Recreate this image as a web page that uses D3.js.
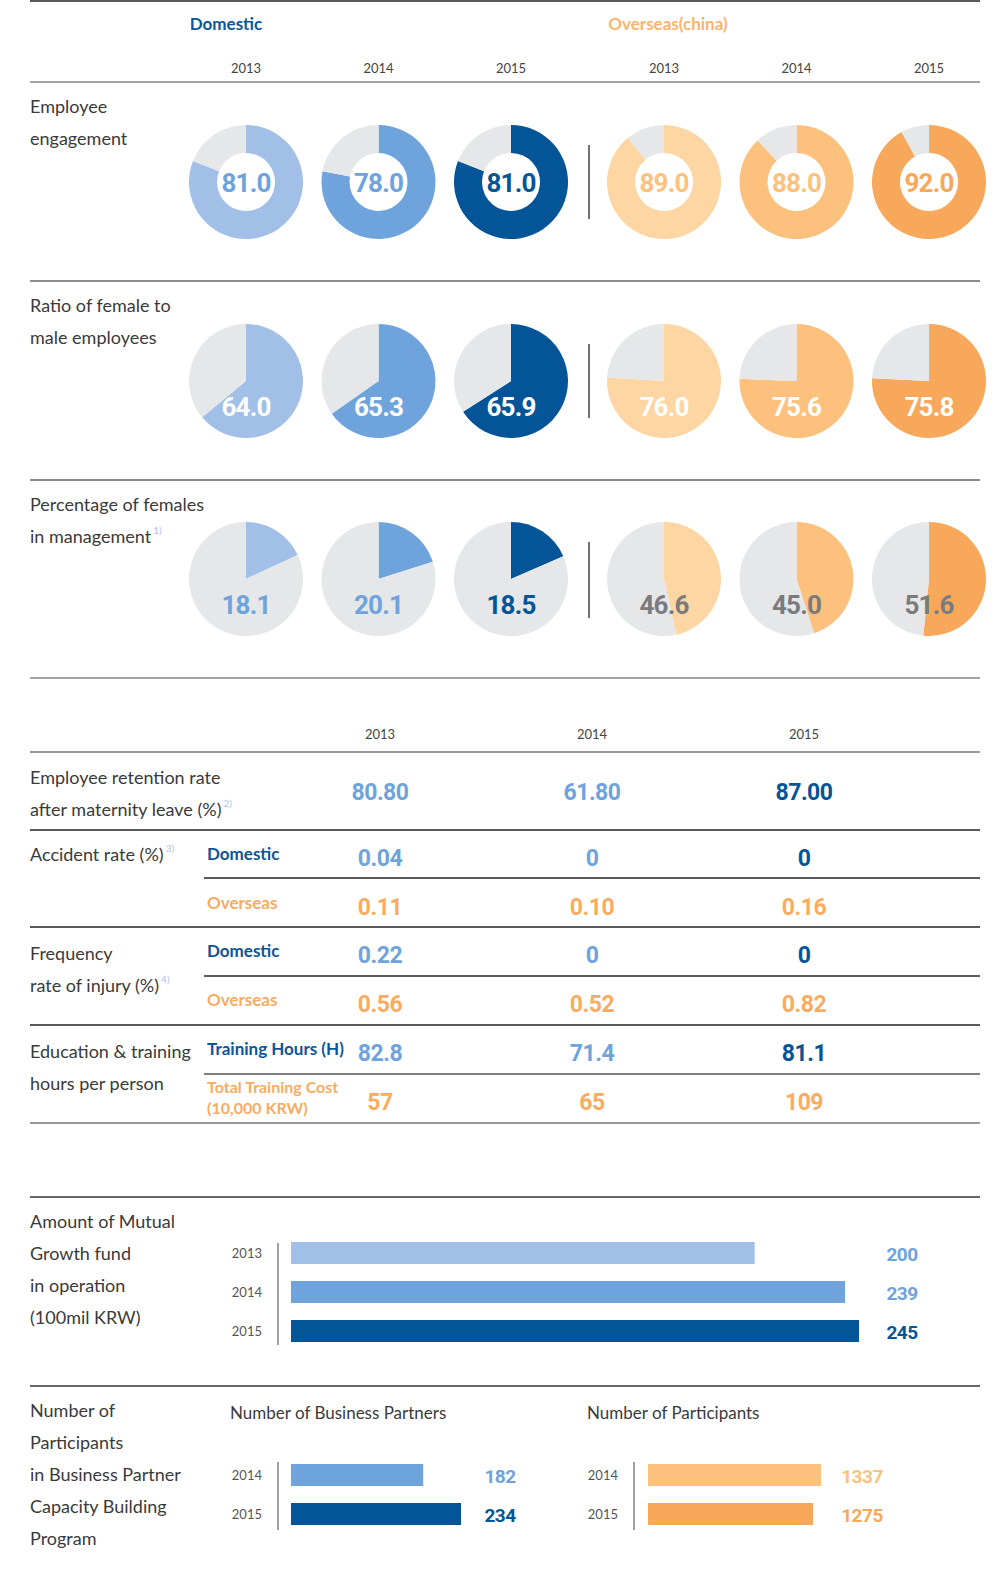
<!DOCTYPE html>
<html>
<head>
<meta charset="utf-8">
<script src="https://cdn.jsdelivr.net/npm/d3@7"></script>
<style>
  html, body { margin: 0; padding: 0; background: #fff; }
  svg text { font-family: Lato, "Noto Sans", sans-serif; }
  svg text.num { font-family: Roboto, "Noto Sans", sans-serif; font-weight: 700; }
</style>
</head>
<body>
<svg id="chart" width="1000" height="1573"></svg>
<script>
// ---- data ----
const years = ["2013", "2014", "2015"];
const engagementDomestic = [81.0, 78.0, 81.0];
const engagementOverseas = [89.0, 88.0, 92.0];
const femaleRatioDomestic = [64.0, 65.3, 65.9];
const femaleRatioOverseas = [76.0, 75.6, 75.8];
const femaleMgmtDomestic = [18.1, 20.1, 18.5];
const femaleMgmtOverseas = [46.6, 45.0, 51.6];

const retentionRate = ["80.80", "61.80", "87.00"];
const accidentDomestic = ["0.04", "0", "0"];
const accidentOverseas = ["0.11", "0.10", "0.16"];
const injuryDomestic = ["0.22", "0", "0"];
const injuryOverseas = ["0.56", "0.52", "0.82"];
const trainingHours = ["82.8", "71.4", "81.1"];
const trainingCost = ["57", "65", "109"];

const fundYears = ["2013", "2014", "2015"];
const fundAmount = [200, 239, 245];
const programYears = ["2014", "2015"];
const businessPartners = [182, 234];
const participants = [1337, 1275];

// ---- palette ----
const blueFill = ["#a1bfe7", "#6ea3dc", "#035597"];
const orangeFill = ["#fdd6a3", "#fbc17d", "#f8a85b"];
const blueText = ["#6ea3dc", "#6ea3dc", "#035597"];
const orangeText = ["#fbc17d", "#fbc17d", "#f8a85b"];
const grey = "#e6e7e9";
const navy = "#0b5599";
const orange = "#f9ab5f";
const labelColor = "#3a3a3a";

const svg = d3.select("#chart");

function hline(y, x1, x2, color, w) {
  svg.append("line").attr("x1", x1).attr("x2", x2).attr("y1", y).attr("y2", y)
    .attr("stroke", color).attr("stroke-width", w);
}
function vline(x, y1, y2, color, w) {
  svg.append("line").attr("x1", x).attr("x2", x).attr("y1", y1).attr("y2", y2)
    .attr("stroke", color).attr("stroke-width", w);
}
// multi-line label; the optional note is set as a superscript after the last line
function label(lines, x, y0, step, opts = {}) {
  const t = svg.append("text").attr("x", x).attr("y", y0)
    .attr("font-size", opts.size || 18).attr("fill", opts.color || labelColor)
    .attr("font-weight", opts.weight || 400);
  lines.forEach((s, i) => {
    t.append("tspan").attr("x", x).attr("y", y0 + i * step).text(s);
  });
  if (opts.note) {
    t.append("tspan").attr("dx", 2).attr("dy", -9).attr("font-size", 10)
      .attr("fill", "#a9c5ea").text(opts.note);
  }
  return t;
}

// ---- header ----
hline(1, 30, 980, "#222", 1.5);
const domX = d3.scalePoint().domain(years).range([246, 511]);
const ovsX = d3.scalePoint().domain(years).range([664, 929]);
svg.append("text").attr("x", 226).attr("y", 30).attr("text-anchor", "middle")
  .attr("font-size", 17).attr("font-weight", 700).attr("fill", navy).text("Domestic");
svg.append("text").attr("x", 668).attr("y", 30).attr("text-anchor", "middle")
  .attr("font-size", 17).attr("font-weight", 700).attr("fill", "#fbb46e").text("Overseas(china)");
[domX, ovsX].forEach(sc => years.forEach(yr => {
  svg.append("text").attr("x", sc(yr)).attr("y", 73).attr("text-anchor", "middle")
    .attr("font-size", 13).attr("fill", "#444").text(yr);
}));
hline(82, 30, 980, "#444", 1.2);

// ---- pie / donut rows ----
const R = 57;
const pie = d3.pie().sort(null).value(d => d);
function pieGroup(cy, values, xScale, fills, inner, labelDy, labelColors) {
  const arc = d3.arc().innerRadius(inner).outerRadius(R);
  values.forEach((v, i) => {
    const g = svg.append("g").attr("transform", `translate(${xScale(years[i])},${cy})`);
    g.selectAll("path").data(pie([v, 100 - v])).join("path")
      .attr("d", arc).attr("fill", (d, j) => j === 0 ? fills[i] : grey);
    g.append("text").attr("class", "num").attr("x", 0).attr("y", labelDy)
      .attr("text-anchor", "middle").attr("dominant-baseline", "central")
      .attr("font-size", 26).attr("letter-spacing", -0.8)
      .attr("fill", labelColors[i]).text(v.toFixed(1));
  });
}
function pieRow(cy, domestic, overseas, inner, labelDy, domColors, ovsColors) {
  pieGroup(cy, domestic, domX, blueFill, inner, labelDy, domColors);
  pieGroup(cy, overseas, ovsX, orangeFill, inner, labelDy, ovsColors);
}
const white = ["#fff", "#fff", "#fff"];
const greyText = ["#7a7b7e", "#7a7b7e", "#7a7b7e"];

label(["Employee", "engagement"], 30, 113, 32);
pieRow(182, engagementDomestic, engagementOverseas, 29, 1, blueText, orangeText);
vline(589, 145, 219, "#444", 1.5);
hline(281, 30, 980, "#666", 1.5);

label(["Ratio of female to", "male employees"], 30, 312, 32);
pieRow(381, femaleRatioDomestic, femaleRatioOverseas, 0, 26, white, white);
vline(589, 344, 418, "#444", 1.5);
hline(480, 30, 980, "#666", 1.5);

label(["Percentage of females", "in management"], 30, 511, 32, { note: "1)" });
pieRow(579, femaleMgmtDomestic, femaleMgmtOverseas, 0, 26, blueText, greyText);
vline(589, 542, 618, "#444", 1.5);
hline(678, 30, 980, "#444", 1.2);

// ---- table ----
const colX = d3.scalePoint().domain(years).range([380, 804]);
years.forEach(yr => {
  svg.append("text").attr("x", colX(yr)).attr("y", 739).attr("text-anchor", "middle")
    .attr("font-size", 13).attr("fill", "#444").text(yr);
});
hline(752, 30, 980, "#777", 1.5);

function valueRow(vals, y, colors) {
  vals.forEach((v, i) => {
    svg.append("text").attr("class", "num").attr("x", colX(years[i])).attr("y", y)
      .attr("text-anchor", "middle").attr("dominant-baseline", "central")
      .attr("font-size", 23).attr("letter-spacing", -0.5).attr("fill", colors[i]).text(v);
  });
}
const orangeRow = [orange, orange, orange];
const subStyle = (color) => ({ size: 17, weight: 700, color });

label(["Employee retention rate", "after maternity leave (%)"], 30, 784, 32, { note: "2)" });
valueRow(retentionRate, 792, blueText);
hline(830, 30, 980, "#222", 1.3);

label(["Accident rate (%)"], 30, 861, 32, { note: "3)" });
label(["Domestic"], 207, 860, 0, subStyle(navy));
valueRow(accidentDomestic, 858, blueText);
hline(878, 204, 980, "#222", 1.3);
label(["Overseas"], 207, 909, 0, subStyle(orange));
valueRow(accidentOverseas, 907, orangeRow);
hline(927, 30, 980, "#222", 1.3);

label(["Frequency", "rate of injury (%)"], 30, 960, 32, { note: "4)" });
label(["Domestic"], 207, 957, 0, subStyle(navy));
valueRow(injuryDomestic, 955, blueText);
hline(976, 204, 980, "#222", 1.3);
label(["Overseas"], 207, 1006, 0, subStyle(orange));
valueRow(injuryOverseas, 1004, orangeRow);
hline(1025, 30, 980, "#222", 1.3);

label(["Education & training", "hours per person"], 30, 1058, 32);
label(["Training Hours (H)"], 207, 1055, 0, subStyle(navy));
valueRow(trainingHours, 1053, blueText);
hline(1074, 204, 980, "#555", 1.3);
label(["Total Training Cost", "(10,000 KRW)"], 207, 1093, 21, { size: 16, weight: 700, color: orange });
valueRow(trainingCost, 1102, orangeRow);
hline(1123, 30, 980, "#777", 1.5);

// ---- horizontal bar blocks ----
function barBlock(cfg) {
  const y = d3.scalePoint().domain(cfg.years).range(cfg.yRange);
  const x = d3.scaleLinear().domain([0, d3.max(cfg.values)]).range([0, cfg.maxWidth]);
  vline(cfg.axisX, cfg.axisY[0], cfg.axisY[1], "#444", 1);
  cfg.years.forEach((yr, i) => {
    const cy = y(yr);
    svg.append("text").attr("x", cfg.axisX - 16).attr("y", cy).attr("dominant-baseline", "central")
      .attr("text-anchor", "end").attr("font-size", 13).attr("fill", "#555").text(yr);
    svg.append("rect").attr("x", cfg.barX).attr("y", cy - 11)
      .attr("width", x(cfg.values[i])).attr("height", 22).attr("fill", cfg.fills[i]);
    svg.append("text").attr("class", "num").attr("x", cfg.valueX).attr("y", cy + 1)
      .attr("dominant-baseline", "central").attr("text-anchor", "middle")
      .attr("font-size", 19).attr("letter-spacing", -0.5).attr("fill", cfg.textColors[i]).text(cfg.values[i]);
  });
}

hline(1197, 30, 980, "#333", 1.3);
label(["Amount of Mutual", "Growth fund", "in operation", "(100mil KRW)"], 30, 1228, 32);
barBlock({
  years: fundYears, values: fundAmount, yRange: [1253, 1331],
  axisX: 278, axisY: [1243, 1345], barX: 291, maxWidth: 568, valueX: 902,
  fills: blueFill, textColors: blueText
});

hline(1386, 30, 980, "#333", 1.3);
label(["Number of", "Participants", "in Business Partner", "Capacity Building", "Program"], 30, 1417, 32);
label(["Number of Business Partners"], 230, 1419, 0, { size: 17 });
label(["Number of Participants"], 587, 1419, 0, { size: 17 });
barBlock({
  years: programYears, values: businessPartners, yRange: [1475, 1514],
  axisX: 278, axisY: [1462, 1530], barX: 291, maxWidth: 170, valueX: 500,
  fills: blueFill.slice(1), textColors: blueText.slice(1)
});
barBlock({
  years: programYears, values: participants, yRange: [1475, 1514],
  axisX: 634, axisY: [1462, 1530], barX: 648, maxWidth: 173, valueX: 862,
  fills: orangeFill.slice(1), textColors: orangeText.slice(1)
});
</script>
</body>
</html>
